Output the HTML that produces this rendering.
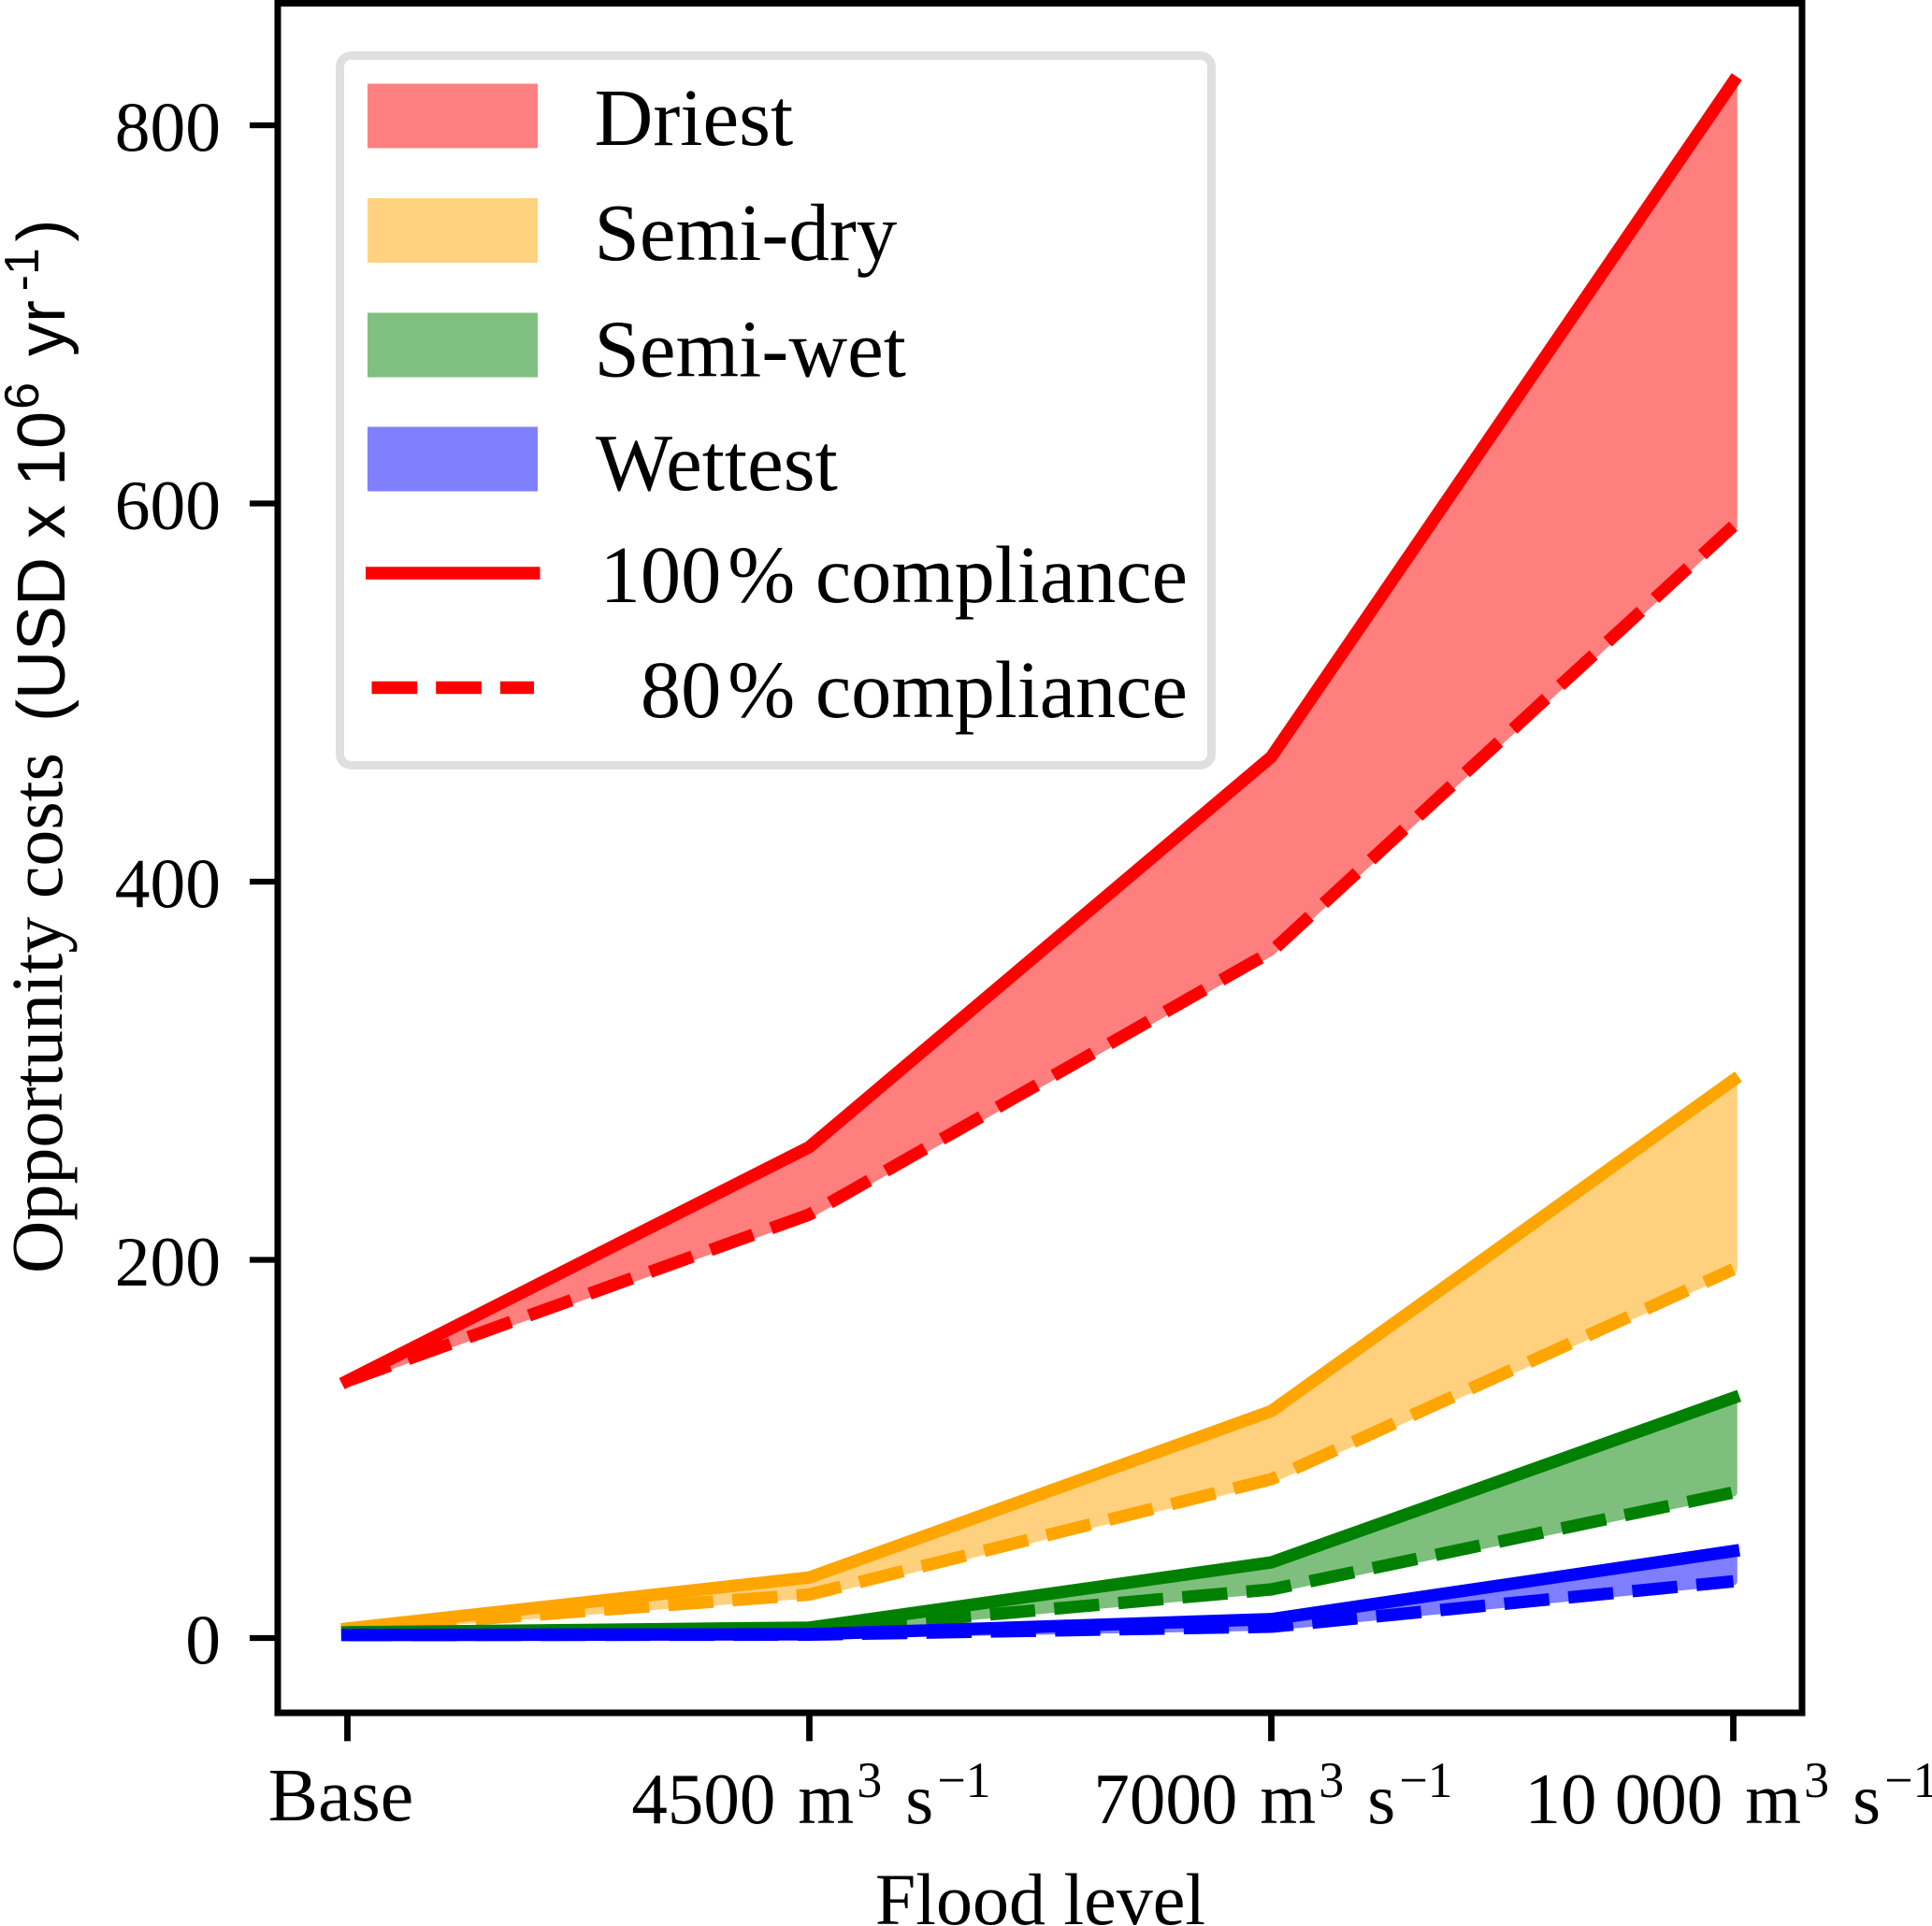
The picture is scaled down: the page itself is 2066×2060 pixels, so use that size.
<!DOCTYPE html>
<html lang="en">
<head>
<meta charset="utf-8">
<title>Opportunity costs by flood level</title>
<style>
html,body{margin:0;padding:0;background:#fff;}
svg{display:block;}
text{font-family:"Liberation Serif",serif;fill:#000;}
.sans{font-family:"Liberation Sans",sans-serif;}
</style>
</head>
<body>
<svg id="chart" xmlns="http://www.w3.org/2000/svg" width="2066" height="2060" viewBox="0 0 2066 2060">
  <rect x="0" y="0" width="2066" height="2060" fill="#fff"/>
  <g id="marks"></g>
  <g id="spines" fill="none" stroke="#000" stroke-width="7">
    <rect x="297" y="3.5" width="1630" height="1828.5"/>
  </g>
  <g id="ticks"></g>

  <g>
    <rect x="363.5" y="59.5" width="932" height="759" rx="12" ry="12" fill="#fff" stroke="#dfdfdf" stroke-width="9"/>
    <rect x="393" y="89.5" width="182" height="69" fill="#ff8080"/>
    <rect x="393" y="212" width="182" height="69" fill="#ffd280"/>
    <rect x="393" y="334.5" width="182" height="69" fill="#80c080"/>
    <rect x="393" y="456.5" width="182" height="69" fill="#8080ff"/>
    <line x1="391" y1="613" x2="577.5" y2="613" stroke="#f00" stroke-width="13.5"/>
    <line x1="397.5" y1="735.5" x2="571" y2="735.5" stroke="#f00" stroke-width="13.5" stroke-dasharray="48.7 20"/>
    <text x="635.5" y="155" font-size="87">Driest</text>
    <text x="635.5" y="278" font-size="87">Semi-dry</text>
    <text x="635.5" y="402.5" font-size="87">Semi-wet</text>
    <text x="637" y="524" font-size="87">Wettest</text>
    <text x="1270" y="644" font-size="86.4" text-anchor="end">100<tspan dx="7">%</tspan> compliance</text>
    <text x="1270" y="767" font-size="86.4" text-anchor="end">80<tspan dx="7">%</tspan> compliance</text>
  </g>

  <text transform="translate(66,1362) rotate(-90)" font-size="78">Opportunity costs</text>
  <text class="sans" transform="translate(69,772) rotate(-90)" font-size="72">(USD x 10<tspan font-size="52" dx="2" dy="-28">6</tspan><tspan dx="28" dy="28">yr</tspan><tspan font-size="52" dx="9.6" dy="-28">-</tspan><tspan font-size="52">1</tspan><tspan dx="6.7" dy="28">)</tspan></text>
  <text x="1112.5" y="2058" font-size="78" text-anchor="middle">Flood level</text>
</svg>

<script>
// ---- chart data ----
const categories = ["Base", "4500", "7000", "10 000"];
const yTickValues = [0, 200, 400, 600, 800];
const driest100 = [136, 259.7, 466, 823];
const driest80 = [136, 224, 363, 588];
const semiDry100 = [5, 32, 120, 295];
const semiDry80 = [5, 23, 84, 195];
const semiWet100 = [3, 5.5, 40, 127];
const semiWet80 = [3, 4, 25.7, 77];
const wettest100 = [1.6, 2, 10, 46];
const wettest80 = [1.6, 1.8, 6, 30];
const seriesNames = ["driest", "semi-dry", "semi-wet", "wettest"];
const seriesColors = ["#ff0000", "#ffa500", "#008000", "#0000ff"];
const seriesSolid = [driest100, semiDry100, semiWet100, wettest100];
const seriesDashed = [driest80, semiDry80, semiWet80, wettest80];

// ---- axis functions ----
function xAxis(i) { return 371.5 + i * 494; }
function yAxis(v) { return 1752 - v * 2.0225; }

const SVG_NS = "http://www.w3.org/2000/svg";
function make(tag, attrs, parent) {
  const node = document.createElementNS(SVG_NS, tag);
  for (const key in attrs) node.setAttribute(key, attrs[key]);
  parent.appendChild(node);
  return node;
}
function pointsOf(values) {
  return values.map(function (v, i) { return xAxis(i) + "," + yAxis(v); });
}

const marks = document.getElementById("marks");
const ticks = document.getElementById("ticks");

seriesNames.forEach(function (name, s) {
  const solidPts = pointsOf(seriesSolid[s]);
  const dashedPts = pointsOf(seriesDashed[s]);

  const fill = make("polygon", {
    points: solidPts.concat(dashedPts.slice().reverse()).join(" "),
    fill: seriesColors[s], stroke: seriesColors[s], "stroke-width": 8.6,
    "stroke-linejoin": "round", opacity: 0.5
  }, marks);
  
  

  const solid = make("polyline", {
    points: solidPts.join(" "), fill: "none", stroke: seriesColors[s],
    "stroke-width": 13.3, "stroke-linejoin": "round", "stroke-linecap": "square"
  }, marks);
  
  

  const dashed = make("polyline", {
    points: dashedPts.join(" "), fill: "none", stroke: seriesColors[s],
    "stroke-width": 13.3, "stroke-linejoin": "round", "stroke-linecap": "butt",
    "stroke-dasharray": "48.3 20.5"
  }, marks);
  
  
});

yTickValues.forEach(function (v) {
  const y = yAxis(v);
  const mark = make("line", { x1: 267, x2: 295, y1: y, y2: y, stroke: "#000", "stroke-width": 6.3 }, ticks);
  
  
  const label = make("text", { x: 236, y: y + 27.5, "font-size": 75.5, "text-anchor": "end" }, ticks);
  
  
  label.textContent = String(v);
});

categories.forEach(function (cat, i) {
  const x = xAxis(i);
  const mark = make("line", { x1: x, x2: x, y1: 1834, y2: 1862.3, stroke: "#000", "stroke-width": 6.8 }, ticks);
  
  

  if (i === 0) {
    const base = make("text", { x: x - 7, y: 1947, "font-size": 80, "text-anchor": "middle" }, ticks);
    
    
    base.textContent = cat;
    return;
  }
  const label = make("text", { x: x + (i === 3 ? -2 : 2), y: 1950, "font-size": 77, "text-anchor": "middle" }, ticks);
  
  
  make("tspan", {}, label).textContent = cat;
  make("tspan", { dx: 24 }, label).textContent = "m";
  make("tspan", { dx: 3, dy: -28, "font-size": 54 }, label).textContent = "3";
  make("tspan", { dx: 25, dy: 28 }, label).textContent = "s";
  make("tspan", { dx: 4, dy: -28, "font-size": 54 }, label).textContent = "\u22121";
});
</script>
</body>
</html>
